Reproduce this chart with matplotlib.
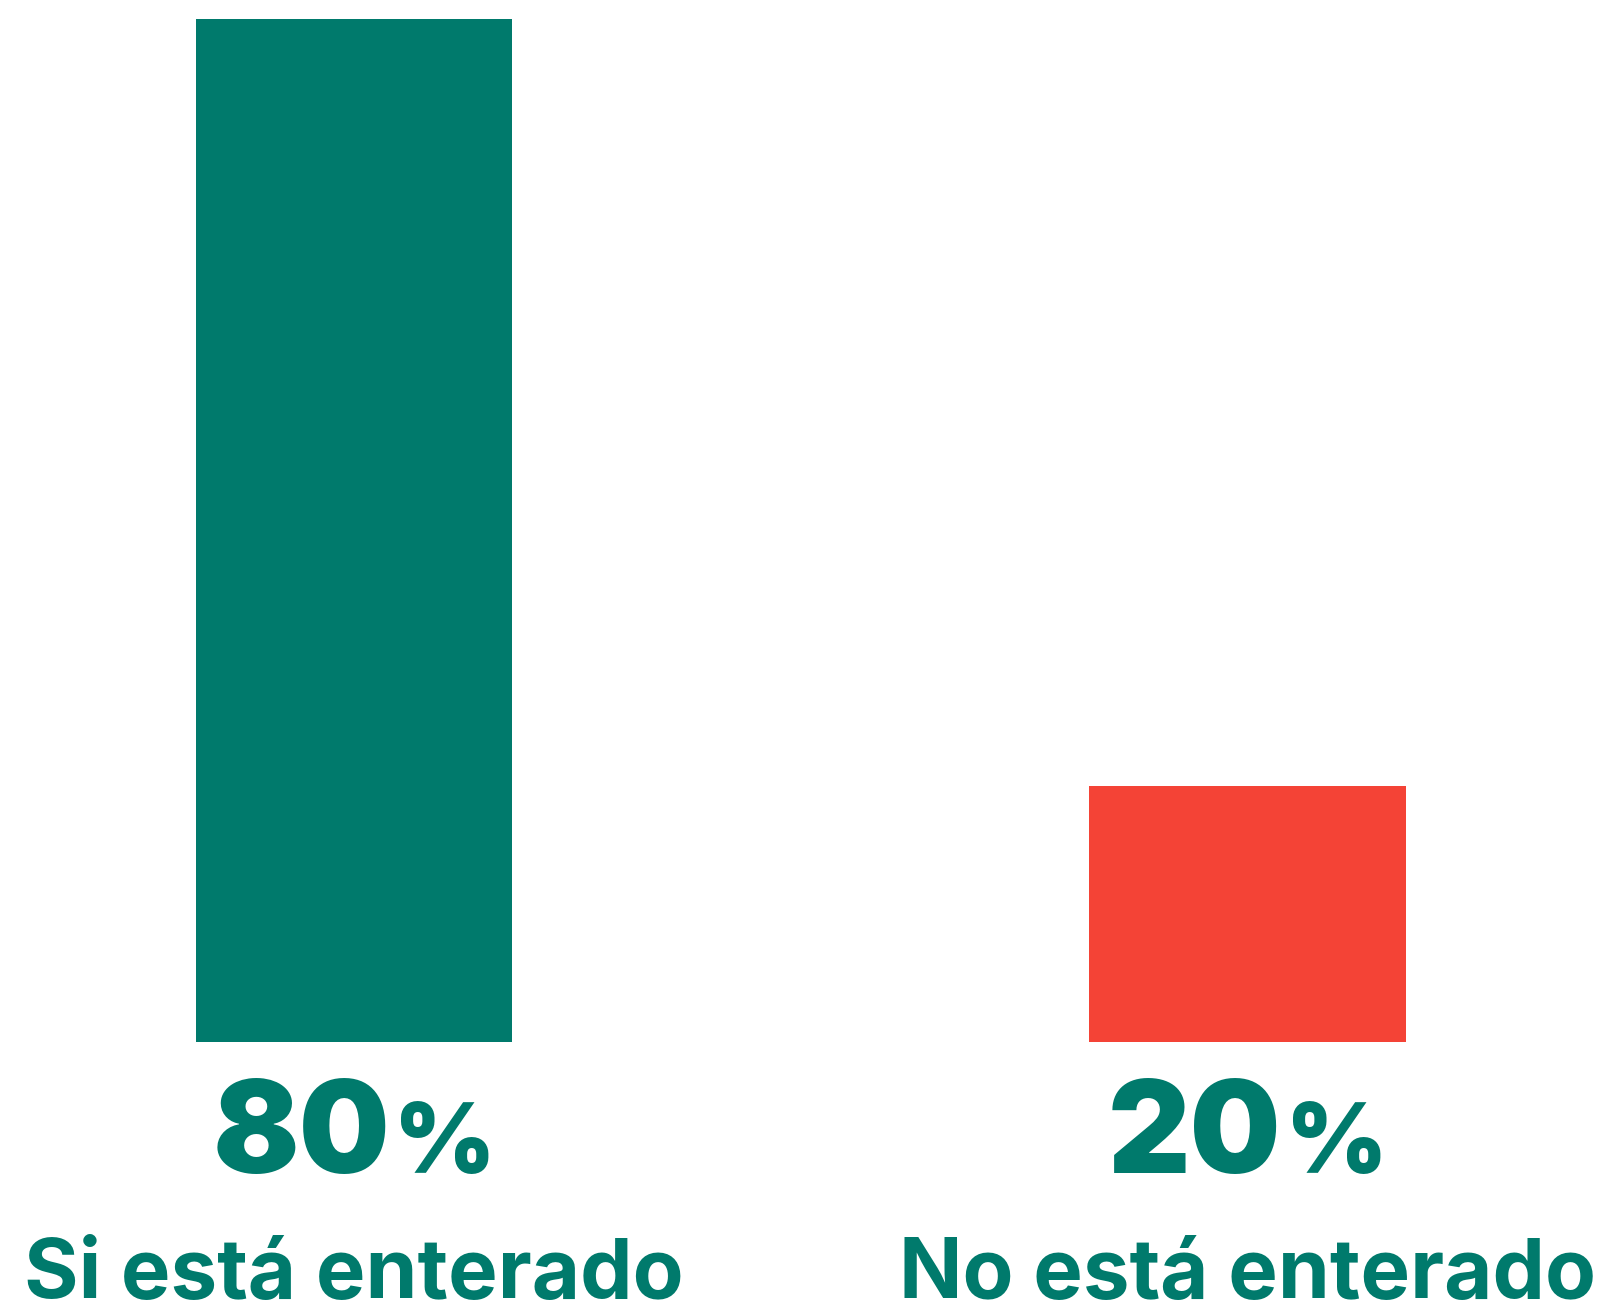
import matplotlib
matplotlib.use("Agg")
import matplotlib.pyplot as plt
from matplotlib.transforms import blended_transform_factory

# Datos
categorias = ["Si está enterado", "No está enterado"]
valores = [80, 20]
colores = ["#007A6C", "#F44336"]
color_texto = "#007A6C"

plt.rcParams['font.family'] = ['Inter', 'DejaVu Sans']

W, H = 1610, 1304
fig = plt.figure(figsize=(W / 100, H / 100), dpi=100)
# eje ocupa todo el ancho, base de las barras en y=1042 px
ax = fig.add_axes([0, (H - 1042) / H, 1, 1042 / H])
x = list(range(len(categorias)))
ax.bar(x, valores, width=0.354, color=colores)
ax.set_xlim(-0.396, 1.4057)
ax.set_ylim(0, 1042 / 1023.5 * 80)
ax.axis('off')

trans = blended_transform_factory(ax.transData, fig.transFigure)
fig.canvas.draw()
renderer = fig.canvas.get_renderer()

for i, (cat, val) in enumerate(zip(categorias, valores)):
    # numero grande + signo de porcentaje mas pequeño
    num = ax.text(i, (H - 1173) / H, str(val), transform=trans, ha='right', va='baseline',
                  fontsize=92, fontweight='black', color=color_texto)
    pct = ax.text(i, (H - 1173) / H, "%", transform=trans, ha='left', va='baseline',
                  fontsize=70, fontweight='black', color=color_texto)
    wn = num.get_window_extent(renderer).width
    wp = pct.get_window_extent(renderer).width
    gap = 4
    total = wn + gap + wp
    cx = ax.transData.transform((i, 0))[0]
    left = cx - total / 2
    xn = ax.transData.inverted().transform((left + wn, 0))[0]
    xp = ax.transData.inverted().transform((left + wn + gap, 0))[0]
    num.set_x(xn)
    pct.set_x(xp)

    ax.text(i, (H - 1298) / H, cat, transform=trans, ha='center', va='baseline',
            fontsize=60, fontweight='bold', color=color_texto)

fig.savefig("out.png", dpi=100)
